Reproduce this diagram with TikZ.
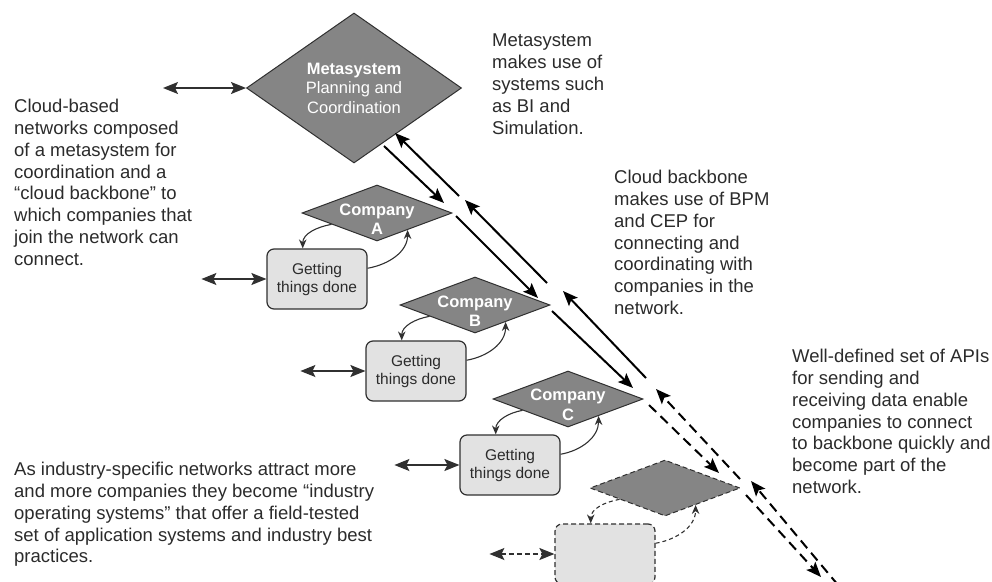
\documentclass[tikz,border=0pt]{standalone}
\usepackage{fontspec}
\setmainfont{Liberation Sans}
\usetikzlibrary{shapes.geometric,arrows.meta,positioning}

\definecolor{diagray}{HTML}{858585}
\definecolor{boxgray}{HTML}{E2E2E2}
\definecolor{edgegray}{HTML}{303030}
\definecolor{txtgray}{HTML}{2B2B2B}

\begin{document}
\begin{tikzpicture}[x=1pt,y=1pt,>={Stealth[length=15pt,width=12pt,inset=3pt]},node distance=66pt,
    company node/.style={diamond,draw=edgegray,fill=diagray,line width=1pt,inner sep=0pt,minimum width=150pt,minimum height=56pt},
    company text/.style={text=white,font=\fontsize{16.5}{19.5}\selectfont\bfseries,align=center},
    work node/.style={rectangle,rounded corners=7pt,draw=edgegray,fill=boxgray,line width=1.2pt,minimum width=100pt,minimum height=60pt,align=center,text=txtgray,font=\fontsize{15.5}{18}\selectfont},
    note/.style={anchor=north west,align=left,inner sep=0pt,text=txtgray,font=\fontsize{18.5}{21.8}\selectfont},
    io/.style={<->,line width=1.4pt,draw=edgegray},
    handoff/.style={-{Stealth[length=9pt,width=7.5pt]},line width=1.1pt,draw=edgegray},
    backbone/.style={->,line width=2pt},
    joining/.style={dash pattern=on 5pt off 3pt},
    joining line/.style={dash pattern=on 10pt off 6pt}]

    \useasboundingbox (0,0) rectangle (992,-581);

    % metasystem and the companies
    \node[company node,minimum width=215pt,minimum height=150pt,
        label={[text=white,align=center,font=\fontsize{16.5}{19.5}\selectfont]center:{\textbf{Metasystem}\\Planning and\\Coordination}}] (meta) at (354,-88) {};
    \node[company node,label={[company text,yshift=-6pt]center:{Company\\A}}] (compA) at (377,-213) {};
    \node[company node,label={[company text,yshift=-6pt]center:{Company\\B}}] (compB) at (475,-305) {};
    \node[company node,label={[company text,yshift=-6pt]center:{Company\\C}}] (compC) at (568,-399) {};
    \node[company node,joining] (compD) at (665,-488) {};

    \node[work node,below of=compA,xshift=-60pt] (boxA) {Getting\\things done};
    \node[work node,below of=compB,xshift=-59pt] (boxB) {Getting\\things done};
    \node[work node,below of=compC,xshift=-58pt] (boxC) {Getting\\things done};
    \node[work node,joining,below of=compD,xshift=-60pt] (boxD) {};

    % outside links
    \coordinate[left=83pt of meta.west] (metaIn);
    \coordinate[left=65pt of boxA] (inA);
    \coordinate[left=65pt of boxB] (inB);
    \coordinate[left=65pt of boxC] (inC);
    \coordinate[left=65pt of boxD] (inD);
    \draw[io] (metaIn) -- (meta.west);
    \draw[io] (inA) -- (boxA);
    \draw[io] (inB) -- (boxB);
    \draw[io] (inC) -- (boxC);
    \draw[io,joining] (inD) -- (boxD);

    % company <-> getting things done
    \draw[handoff] (compA.194) to[out=190,in=90] (boxA.115);
    \draw[handoff] (boxA.12) to[out=10,in=-90] (compA.-29);
    \draw[handoff] (compB.194) to[out=190,in=90] (boxB.115);
    \draw[handoff] (boxB.12) to[out=10,in=-90] (compB.-29);
    \draw[handoff] (compC.194) to[out=190,in=90] (boxC.115);
    \draw[handoff] (boxC.12) to[out=10,in=-90] (compC.-29);
    \draw[handoff,dash pattern=on 4pt off 3pt] (compD.194) to[out=190,in=90] (boxD.115);
    \draw[handoff,dash pattern=on 4pt off 3pt] (boxD.12) to[out=10,in=-90] (compD.-29);

    % cloud backbone
    \coordinate (d0s) at (384,-146); \coordinate (d0e) at (444,-203);
    \coordinate (d1s) at (456,-216); \coordinate (d1e) at (538,-298);
    \coordinate (d2s) at (552,-311); \coordinate (d2e) at (633,-388);
    \coordinate (d3s) at (649,-405); \coordinate (d3e) at (719,-473);
    \coordinate (d4s) at (746,-495); \coordinate (d4e) at (821,-577);
    \coordinate (u0s) at (459,-196); \coordinate (u0e) at (395,-133);
    \coordinate (u1s) at (547,-283); \coordinate (u1e) at (465,-200);
    \coordinate (u2s) at (646,-378); \coordinate (u2e) at (563,-291);
    \coordinate (u3s) at (740,-479); \coordinate (u3e) at (656,-389);
    \coordinate (u4s) at (838,-585); \coordinate (u4e) at (751,-481);

    \draw[backbone] (d0s) -- (d0e);
    \draw[backbone] (d1s) -- (d1e);
    \draw[backbone] (d2s) -- (d2e);
    \draw[backbone,joining line] (d3s) -- (d3e);
    \draw[backbone,joining line] (d4s) -- (d4e);
    \draw[backbone] (u0s) -- (u0e);
    \draw[backbone] (u1s) -- (u1e);
    \draw[backbone] (u2s) -- (u2e);
    \draw[backbone,joining line] (u3s) -- (u3e);
    \draw[backbone,joining line] (u4s) -- (u4e);

    % notes
    \node[note] (metaNote) at (492,-34) {Metasystem\\makes use of\\systems such\\as BI and\\Simulation.};
    \node[note] (leftNote) at (14,-99) {Cloud-based\\networks composed\\of a metasystem for\\coordination and a\\“cloud backbone” to\\which companies that\\join the network can\\connect.};
    \node[note] (backboneNote) at (614,-170) {Cloud backbone\\makes use of BPM\\and CEP for\\connecting and\\coordinating with\\companies in the\\network.};
    \node[note] (apiNote) at (792,-349) {Well-defined set of APIs\\for sending and\\receiving data enable\\companies to connect\\to backbone quickly and\\become part of the\\network.};
    \node[note] (osNote) at (14,-462) {As industry-specific networks attract more\\and more companies they become “industry\\operating systems” that offer a field-tested\\set of application systems and industry best\\practices.};
\end{tikzpicture}
\end{document}
